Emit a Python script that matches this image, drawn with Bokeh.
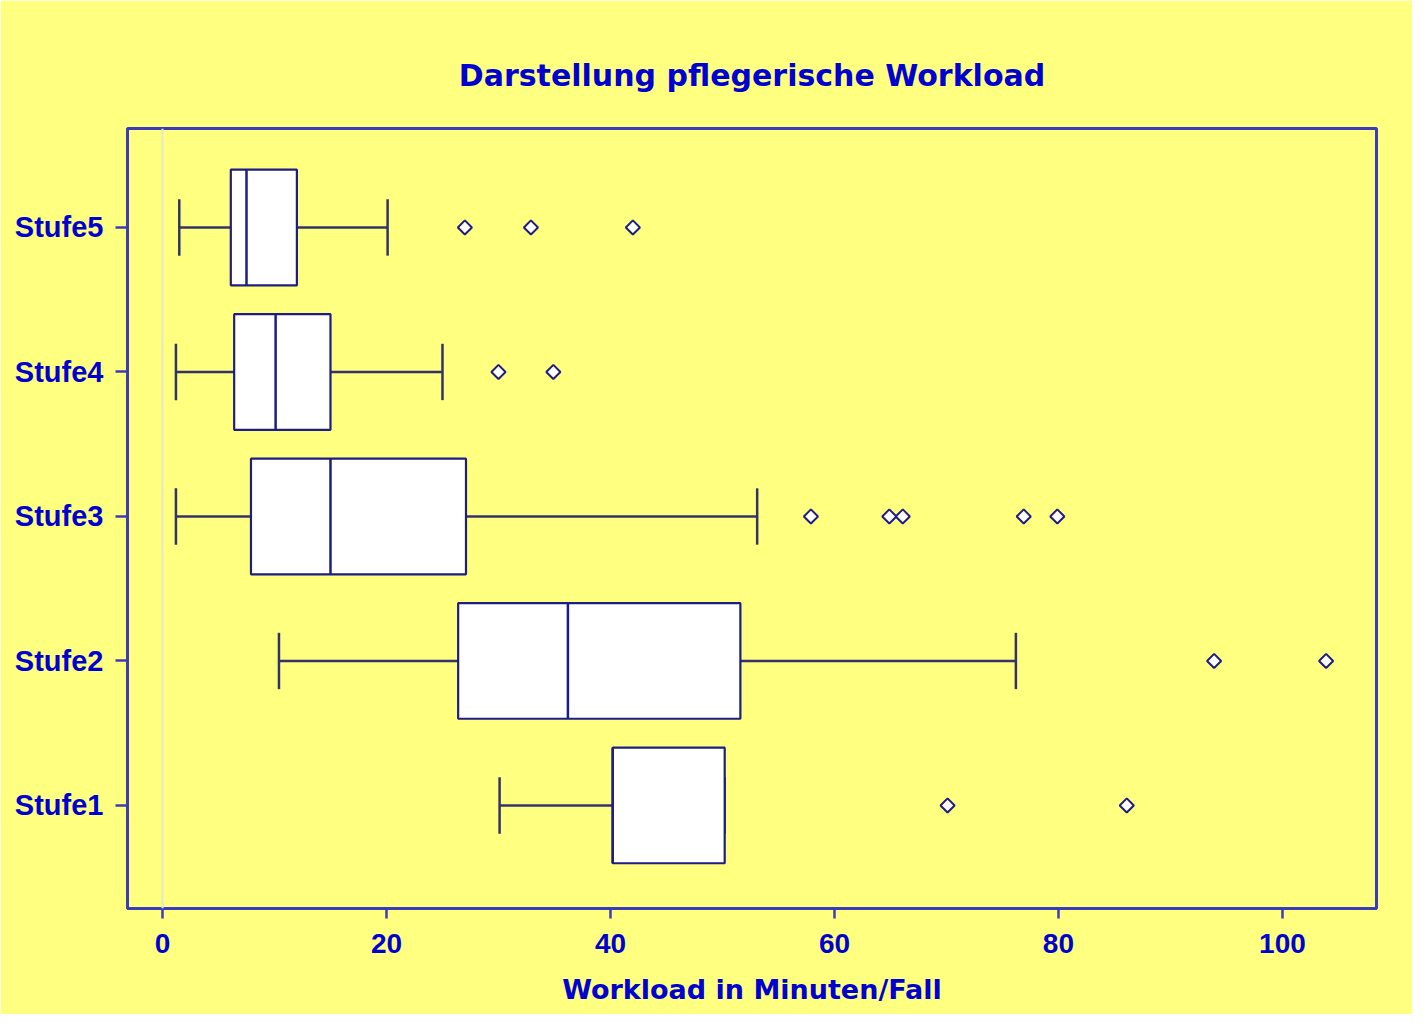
import math
from bokeh.plotting import figure
from bokeh.models import Range1d, FixedTicker, Span, ColumnDataSource
from bokeh.embed import file_html
from bokeh.resources import INLINE

# ---- data ----
levels = ["Stufe1", "Stufe2", "Stufe3", "Stufe4", "Stufe5"]
level_pos = [1, 2, 3, 4, 5]
whisker_low = [30.1, 10.4, 1.2, 1.2, 1.5]
q1 = [40.2, 26.4, 7.9, 6.4, 6.1]
median = [40.2, 36.2, 15.0, 10.1, 7.5]
q3 = [50.2, 51.6, 27.1, 15.0, 12.0]
whisker_high = [50.2, 76.2, 53.1, 25.0, 20.1]

outlier_level = [1, 1, 2, 2, 3, 3, 3, 3, 3, 4, 4, 5, 5, 5]
outlier_value = [70.1, 86.1, 93.9, 103.9, 57.9, 64.9, 66.1, 76.9, 79.9, 30.0, 34.9, 27.0, 32.9, 42.0]

x_ticks = [0, 20, 40, 60, 80, 100]

BG = "#FFFF80"
TXT = "#0000D0"
FRAME = "#3C3CB8"
BOX = "#1E1E82"
WHISK = "#33336A"
FONT = "Liberation Sans"
FONT_WIDE = "DejaVu Sans"

box_h = 0.8
cap_h = 0.39

p = figure(
    frame_width=1249, frame_height=780,
    x_range=Range1d(-3.125, 108.4), y_range=Range1d(0.287, 5.685),
    output_backend="svg", toolbar_location=None,
    title="Darstellung pflegerische Workload",
    min_border_left=127, min_border_right=36, min_border_top=128, min_border_bottom=106,
)
p.background_fill_color = BG
p.border_fill_color = BG
p.outline_line_color = FRAME
p.outline_line_width = 3
p.xgrid.visible = False
p.ygrid.visible = False

p.title.text_font = FONT_WIDE
p.title.text_font_size = "30px"
p.title.text_font_style = "bold"
p.title.text_color = TXT
p.title.align = "center"
p.title.standoff = 71

# reference line at zero
p.add_layout(Span(location=0, dimension="height", line_color="#E6E6C8", line_width=2))

src = ColumnDataSource(dict(
    y=level_pos, lo=whisker_low, q1=q1, med=median, q3=q3, hi=whisker_high,
    yb=[v - box_h / 2 for v in level_pos], yt=[v + box_h / 2 for v in level_pos],
    cb=[v - cap_h / 2 for v in level_pos], ct=[v + cap_h / 2 for v in level_pos],
))

# whiskers
p.segment(x0="lo", y0="y", x1="q1", y1="y", source=src, line_color=WHISK, line_width=2.5)
p.segment(x0="q3", y0="y", x1="hi", y1="y", source=src, line_color=WHISK, line_width=2.5)
p.segment(x0="lo", y0="cb", x1="lo", y1="ct", source=src, line_color=WHISK, line_width=2.5)
p.segment(x0="hi", y0="cb", x1="hi", y1="ct", source=src, line_color=WHISK, line_width=2.5)

# boxes
p.hbar(y="y", left="q1", right="q3", height=box_h, source=src,
       fill_color="white", line_color=BOX, line_width=2.2)
p.segment(x0="med", y0="yb", x1="med", y1="yt", source=src, line_color=BOX, line_width=2.5)

# outliers
p.scatter(x=outlier_value, y=outlier_level, marker="square", angle=math.pi / 4, size=10,
          fill_color="white", line_color=BOX, line_width=2)

# axes
for ax in (p.xaxis[0], p.yaxis[0]):
    ax.axis_line_color = FRAME
    ax.axis_line_width = 3
    ax.major_tick_line_color = FRAME
    ax.major_tick_line_width = 2.5
    ax.minor_tick_line_color = None
    ax.major_tick_in = 0
    ax.major_label_text_font = FONT
    ax.major_label_text_font_style = "bold"
    ax.major_label_text_color = TXT

p.xaxis.ticker = FixedTicker(ticks=x_ticks)
p.xaxis.major_tick_out = 10
p.xaxis.major_label_text_font_size = "28px"
p.xaxis.major_label_standoff = 15
p.xaxis.axis_label = "Workload in Minuten/Fall"
p.xaxis.axis_label_text_font = FONT_WIDE
p.xaxis.axis_label_text_font_size = "27px"
p.xaxis.axis_label_text_font_style = "bold"
p.xaxis.axis_label_text_color = TXT
p.xaxis.axis_label_standoff = 18

p.yaxis.ticker = FixedTicker(ticks=level_pos)
p.yaxis.major_label_overrides = {v: s for v, s in zip(level_pos, levels)}
p.yaxis.major_tick_out = 12
p.yaxis.major_label_text_font_size = "29px"
p.yaxis.major_label_standoff = 12

open("out.html", "w").write(file_html(p, INLINE))
